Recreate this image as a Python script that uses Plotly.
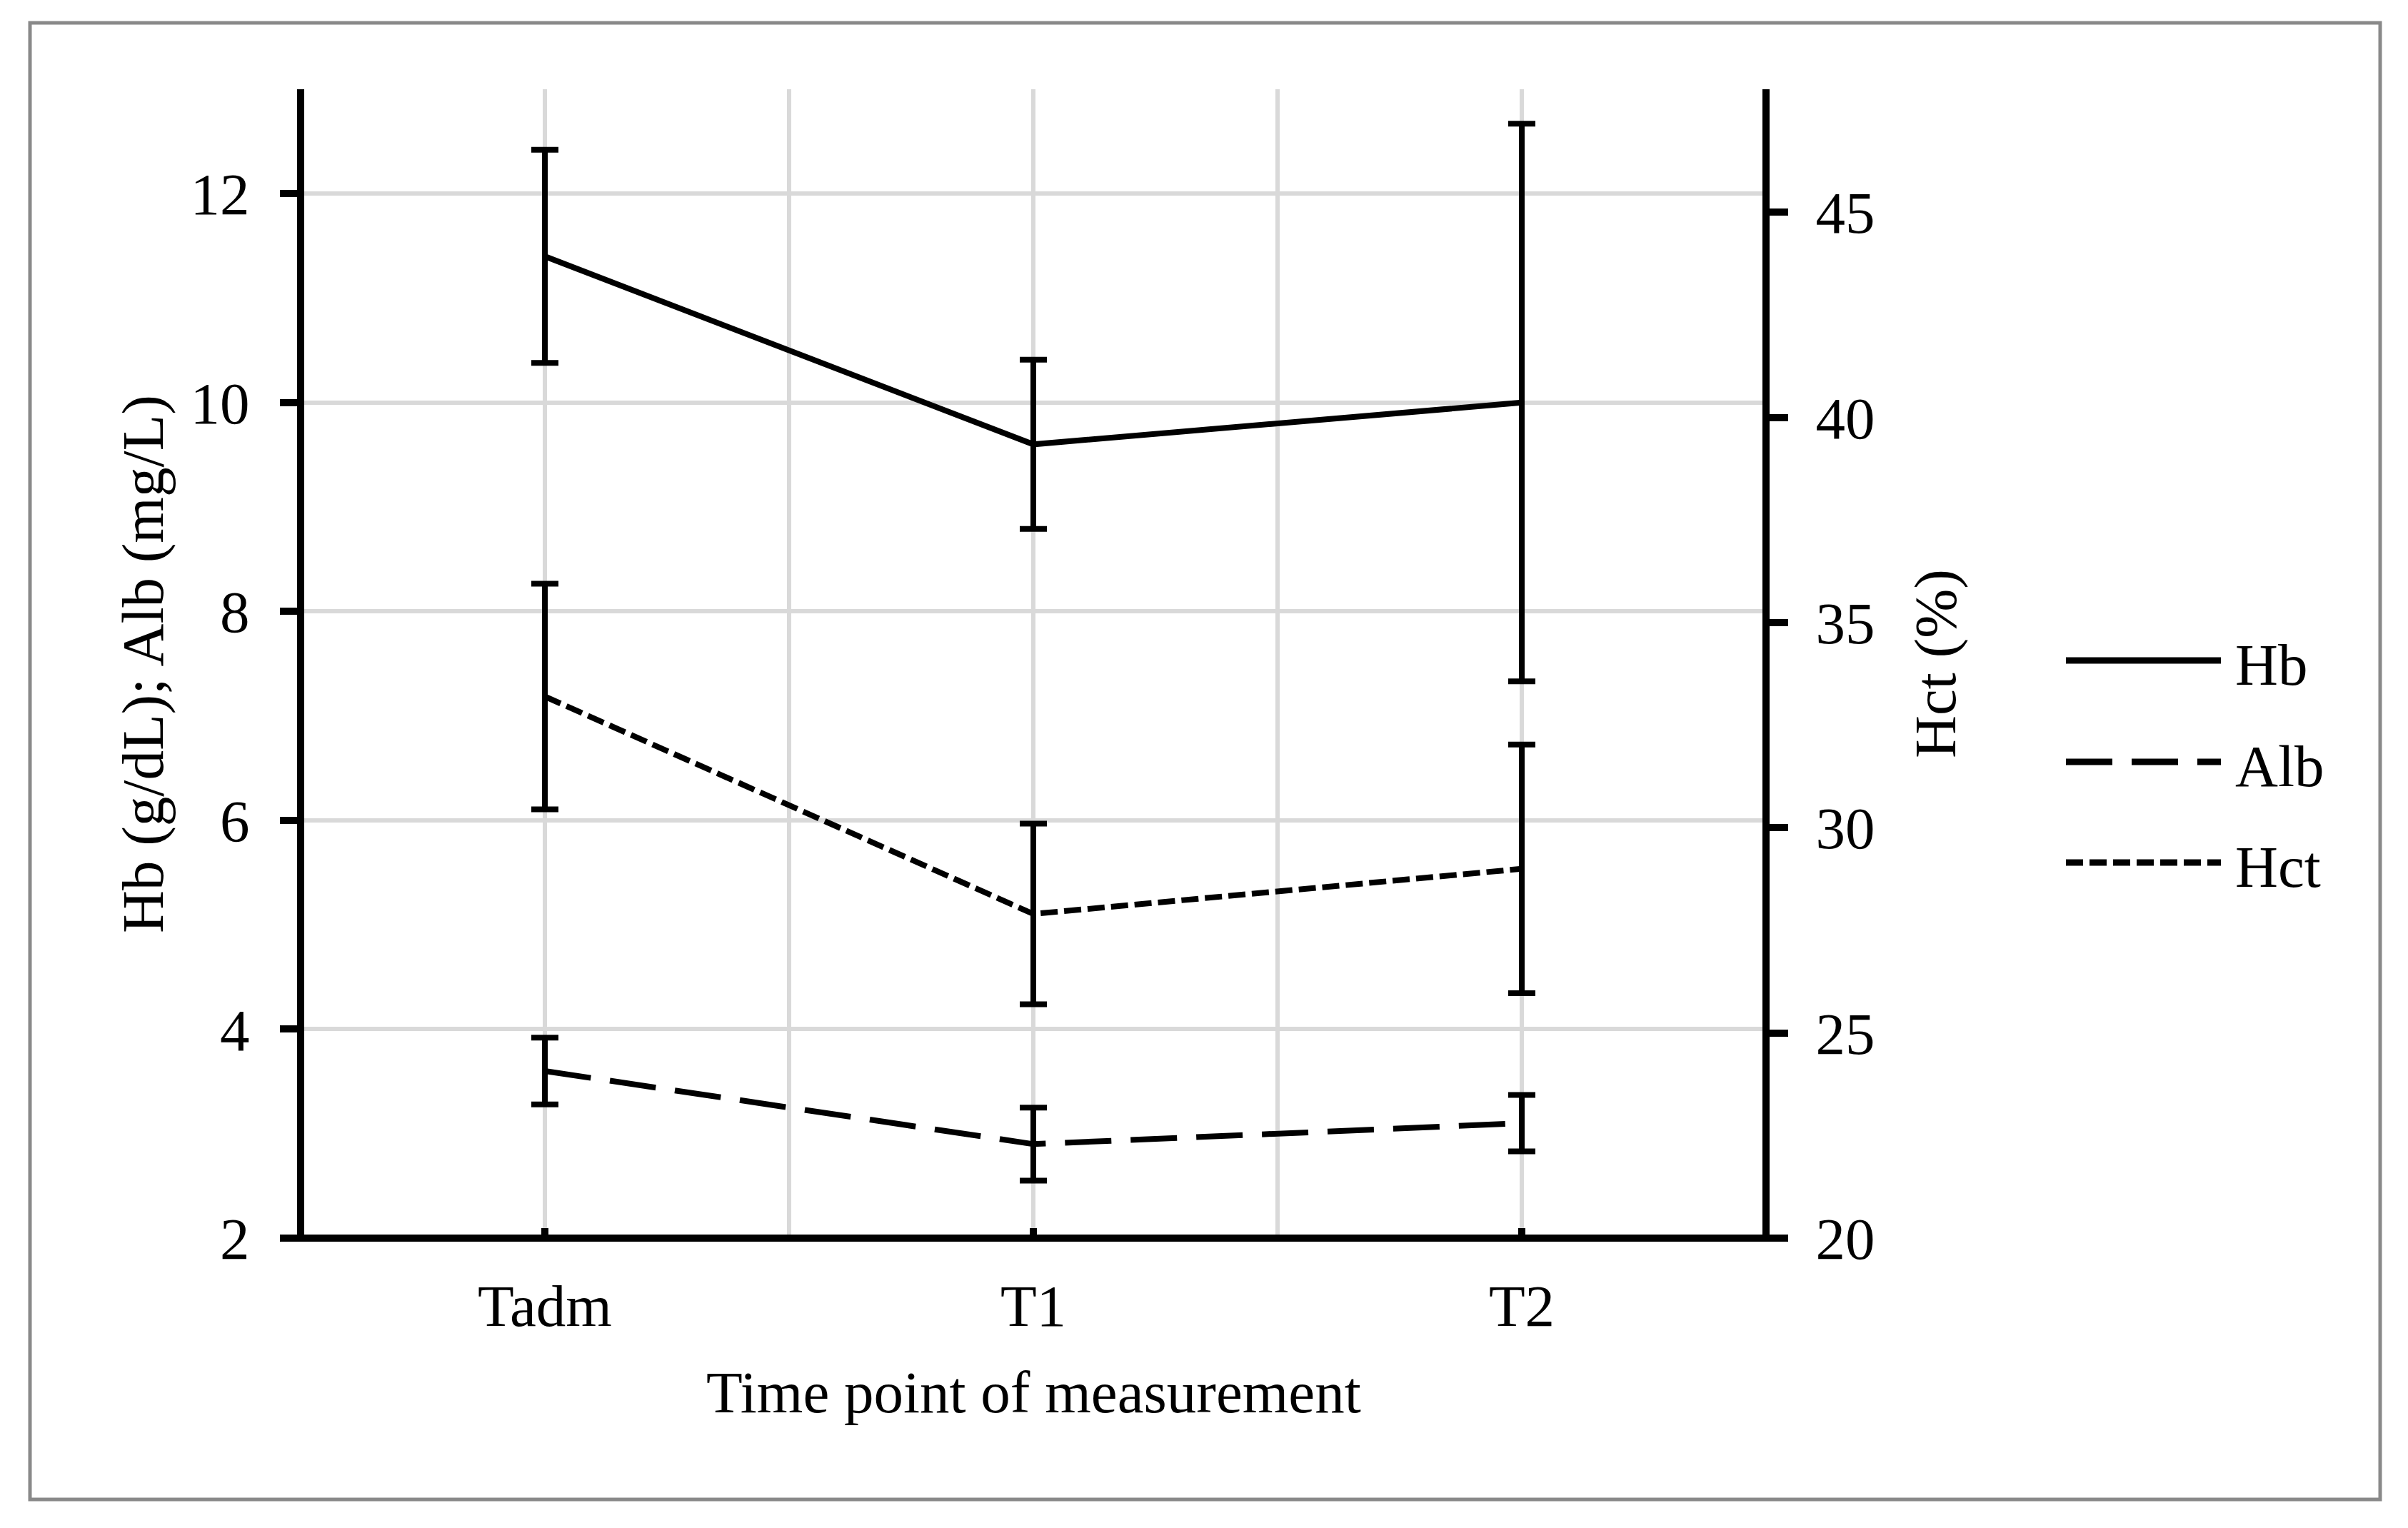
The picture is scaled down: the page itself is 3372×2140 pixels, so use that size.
import plotly.graph_objects as go

# ---- data ----
categories = ["Tadm", "T1", "T2"]
hb = [11.4, 9.6, 10.0]
hb_err = [1.02, 0.81, 2.67]
alb = [3.6, 2.9, 3.1]
alb_err = [0.32, 0.35, 0.27]
hct = [33.2, 27.9, 29.0]
hct_err = [2.75, 2.2, 3.03]
left_ticks = [2, 4, 6, 8, 10, 12]
right_ticks = [20, 25, 30, 35, 40, 45]

# ---- layout geometry (pixels) ----
W, H = 3372, 2140
AXW = 10                      # axis line width
SH = AXW / 2                  # plotly draws y-axis lines outside the plot area by half their width
AX_L, AX_R, AX_B, AX_T = 421, 2473, 1734, 125   # axis line centres in the reference
L, R, B, T = AX_L + SH, AX_R - SH, AX_B, AX_T
FONT = "Liberation Serif, Times New Roman, serif"
FS = 83
LW = 8
GRID = "#d9d9d9"

x_unit = (AX_R - AX_L) / 3.0          # px per category


def px(x):
    return (x - L) / (R - L)


def py(y):
    return (B - y) / (B - T)


xi = list(range(len(categories)))

fig = go.Figure()


def err(vals):
    return dict(type="data", array=vals, visible=True, color="black",
                thickness=LW, width=19)


fig.add_trace(go.Scatter(x=xi, y=hb, mode="lines", name="Hb",
                         line=dict(color="black", width=LW),
                         error_y=err(hb_err), showlegend=False))
fig.add_trace(go.Scatter(x=xi, y=alb, mode="lines", name="Alb",
                         line=dict(color="black", width=LW, dash="65px,27px"),
                         error_y=err(alb_err), showlegend=False))
fig.add_trace(go.Scatter(x=xi, y=hct, mode="lines", name="Hct", yaxis="y2",
                         line=dict(color="black", width=LW, dash="24px,9px"),
                         error_y=err(hct_err), showlegend=False))

fig.update_layout(
    width=W, height=H,
    margin=dict(l=L, r=W - R, t=T, b=H - B, pad=0),
    paper_bgcolor="white", plot_bgcolor="white",
    font=dict(family=FONT, size=FS, color="black"),
    showlegend=False,
    xaxis=dict(
        range=[-0.5 + SH / x_unit, 2.5 - SH / x_unit], tickvals=xi, ticktext=categories,
        showgrid=True, gridcolor=GRID, gridwidth=6,
        minor=dict(tick0=0.5, dtick=1, showgrid=True, gridcolor=GRID, gridwidth=6, ticks=""),
        showline=False,
        ticks="inside", ticklen=14, tickwidth=AXW, tickcolor="black",
        ticklabelstandoff=39,
        zeroline=False,
    ),
    yaxis=dict(
        range=[2, 13], tickvals=left_ticks,
        showgrid=True, gridcolor=GRID, gridwidth=6,
        showline=True, linecolor="black", linewidth=AXW,
        ticks="outside", ticklen=24, tickwidth=AXW, tickcolor="black",
        ticklabelstandoff=26,
        zeroline=False,
    ),
    yaxis2=dict(
        range=[20, 48], tickvals=right_ticks,
        overlaying="y", side="right",
        showgrid=False,
        showline=True, linecolor="black", linewidth=AXW,
        ticks="outside", ticklen=26, tickwidth=AXW, tickcolor="black",
        ticklabelstandoff=22,
        zeroline=False,
    ),
)

annotations = [
    dict(text="Hb (g/dL); Alb (mg/L)", x=px(200), y=py(930), textangle=-90),
    dict(text="Hct (%)", x=px(2710), y=py(930), textangle=-90),
    dict(text="Time point of measurement", x=px(1447), y=py(1950)),
]
for a in annotations:
    a.update(xref="paper", yref="paper", showarrow=False,
             xanchor="center", yanchor="middle", font=dict(size=FS))

shapes = [
    # outer frame of the figure
    dict(type="rect", xref="paper", yref="paper",
         x0=px(42), x1=px(3333), y0=py(32), y1=py(2100),
         line=dict(color="#898989", width=5), layer="below"),
    # x-axis line, centred on the bottom edge of the plot area (value 2 / 20)
    dict(type="line", xref="paper", yref="paper",
         x0=px(AX_L - SH), x1=px(AX_R + SH), y0=0, y1=0,
         line=dict(color="black", width=AXW), layer="above"),
]

legend_items = [("Hb", "solid", 925), ("Alb", "65px,27px", 1067), ("Hct", "24px,9px", 1208)]
for name, dash, yy in legend_items:
    shapes.append(dict(type="line", xref="paper", yref="paper",
                       x0=px(2893), x1=px(3110), y0=py(yy), y1=py(yy),
                       line=dict(color="black", width=9, dash=dash)))
    annotations.append(dict(text=name, xref="paper", yref="paper", showarrow=False,
                            x=px(3128), y=py(yy + 6), xanchor="left", yanchor="middle",
                            font=dict(size=FS)))

fig.update_layout(annotations=annotations, shapes=shapes)
fig.write_html("out.html", config={"displayModeBar": False},
               post_script="document.body.style.margin='0px';")
